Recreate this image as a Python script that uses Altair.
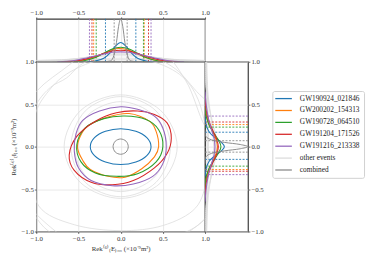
import altair as alt
import pandas as pd

# ---------------- data ----------------
EVENTS = ["GW190924_021846", "GW200202_154313", "GW190728_064510",
          "GW191204_171526", "GW191216_213338"]
OTHER = "other events"
COMBINED = "combined"
LEGEND_ORDER = EVENTS + [OTHER, COMBINED]
COLORS = ["#1f77b4", "#ff7f0e", "#2ca02c", "#d62728", "#9467bd", "#dcdcdc", "#8a8a8a"]

# main-panel 90% contours (points along each closed curve)
contour_x = {
    "GW190924_021846": [0.36, 0.31, 0.18, 0.0, -0.18, -0.31, -0.36, -0.31, -0.18, 0.0, 0.18, 0.31],
    "GW200202_154313": [0.45, 0.42, 0.34, 0.10, -0.15, -0.38, -0.48, -0.51, -0.45, -0.36, -0.15, 0.05, 0.25, 0.40],
    "GW190728_064510": [0.50, 0.45, 0.30, 0.05, -0.20, -0.42, -0.52, -0.47, -0.30, -0.05, 0.20, 0.42],
    "GW191204_171526": [0.60, 0.55, 0.40, 0.20, -0.05, -0.30, -0.52, -0.61, -0.55, -0.35, -0.10, 0.15, 0.40, 0.55],
    "GW191216_213338": [0.54, 0.50, 0.40, 0.20, 0.0, -0.25, -0.45, -0.53, -0.55, -0.50, -0.35, -0.10, 0.15, 0.38, 0.50],
}
contour_y = {
    "GW190924_021846": [0.0, 0.105, 0.18, 0.21, 0.18, 0.105, 0.0, -0.105, -0.18, -0.21, -0.18, -0.105],
    "GW200202_154313": [0.0, 0.18, 0.30, 0.39, 0.35, 0.25, 0.12, -0.02, -0.16, -0.27, -0.35, -0.36, -0.26, -0.12],
    "GW190728_064510": [0.0, 0.20, 0.32, 0.36, 0.33, 0.22, 0.02, -0.18, -0.31, -0.35, -0.32, -0.18],
    "GW191204_171526": [0.10, 0.28, 0.38, 0.42, 0.40, 0.30, 0.12, -0.10, -0.28, -0.42, -0.45, -0.40, -0.25, -0.08],
    "GW191216_213338": [0.0, 0.22, 0.36, 0.44, 0.47, 0.42, 0.31, 0.15, -0.05, -0.25, -0.40, -0.46, -0.44, -0.35, -0.20],
}
combined_cx = [0.09, 0.064, 0.0, -0.064, -0.09, -0.064, 0.0, 0.064]
combined_cy = [0.0, 0.064, 0.09, 0.064, 0.0, -0.064, -0.09, -0.064]

other_cx = [
    [0.59, 0.42, 0.0, -0.42, -0.59, -0.42, 0.0, 0.42],
    [0.55, 0.39, 0.0, -0.39, -0.55, -0.39, 0.0, 0.39],
    [0.67, 0.47, 0.0, -0.47, -0.67, -0.47, 0.0, 0.47],
    [1.02, 0.92, 0.70, 0.30, -0.20, -0.60, -0.85, -1.02, -1.05, -0.97, -0.55, 0.0, 0.50, 0.89, 1.02],
    [1.20, 0.90, 0.60, 0.10, -0.41, -0.64, -0.83, -1.00, -1.20, -1.15, -0.85, -0.20, 0.50, 1.00, 1.20],
    [1.25, 1.00, 0.77, 0.40, -0.20, -0.60, -1.00, -1.30, -1.20, -0.83, -0.30, 0.40, 0.98, 1.20],
]
other_cy = [
    [0.0, 0.42, 0.59, 0.42, 0.0, -0.42, -0.59, -0.42],
    [0.0, 0.37, 0.53, 0.37, 0.0, -0.37, -0.53, -0.37],
    [0.0, 0.43, 0.61, 0.43, 0.0, -0.43, -0.61, -0.43],
    [0.10, 0.55, 0.85, 1.02, 1.03, 0.88, 0.66, 0.35, -0.20, -0.70, -0.92, -0.99, -0.93, -0.72, -0.35],
    [0.30, 0.65, 0.95, 1.15, 1.00, 0.81, 0.70, 0.50, 0.10, -0.50, -1.00, -1.20, -1.10, -0.85, -0.30],
    [0.0, 0.24, 0.78, 1.20, 1.30, 0.97, 0.65, 0.20, -0.50, -0.95, -1.25, -1.20, -0.87, -0.45],
]

# top marginal: 1-D densities along x (fraction of panel height)
top_x = {
    "GW190924_021846": [-0.4, -0.3, -0.2, -0.12, -0.06, 0.0, 0.06, 0.12, 0.2, 0.3, 0.4],
    "GW200202_154313": [-0.65, -0.5, -0.35, -0.2, -0.1, -0.02, 0.08, 0.2, 0.3, 0.45, 0.6],
    "GW190728_064510": [-0.6, -0.45, -0.3, -0.2, -0.1, 0.0, 0.1, 0.2, 0.3, 0.45, 0.6],
    "GW191204_171526": [-0.7, -0.5, -0.35, -0.2, -0.1, 0.0, 0.1, 0.2, 0.35, 0.5, 0.7],
    "GW191216_213338": [-0.75, -0.55, -0.4, -0.2, -0.1, 0.0, 0.1, 0.2, 0.4, 0.55, 0.75],
}
top_d = {
    "GW190924_021846": [0.0, 0.02, 0.08, 0.22, 0.37, 0.45, 0.37, 0.22, 0.08, 0.02, 0.0],
    "GW200202_154313": [0.0, 0.02, 0.08, 0.20, 0.28, 0.31, 0.28, 0.18, 0.10, 0.02, 0.0],
    "GW190728_064510": [0.0, 0.02, 0.10, 0.20, 0.30, 0.34, 0.30, 0.20, 0.10, 0.02, 0.0],
    "GW191204_171526": [0.0, 0.03, 0.10, 0.19, 0.25, 0.27, 0.25, 0.19, 0.10, 0.03, 0.0],
    "GW191216_213338": [0.0, 0.03, 0.09, 0.18, 0.22, 0.23, 0.22, 0.18, 0.09, 0.03, 0.0],
}
combined_top_x = [-0.2, -0.12, -0.08, -0.05, -0.025, 0.0, 0.025, 0.05, 0.08, 0.12, 0.2]
combined_top_d = [0.0, 0.02, 0.15, 0.45, 0.82, 1.0, 0.82, 0.45, 0.15, 0.02, 0.0]
other_top_x = [-1.0, -0.7, -0.45, -0.2, 0.0, 0.2, 0.45, 0.7, 1.0]
other_top_d = [
    [0.0, 0.03, 0.09, 0.15, 0.17, 0.15, 0.09, 0.03, 0.0],
    [0.0, 0.02, 0.09, 0.17, 0.19, 0.17, 0.09, 0.02, 0.0],
    [0.01, 0.04, 0.09, 0.13, 0.14, 0.13, 0.09, 0.04, 0.01],
    [0.03, 0.05, 0.07, 0.08, 0.085, 0.08, 0.07, 0.05, 0.03],
    [0.03, 0.04, 0.05, 0.055, 0.06, 0.055, 0.05, 0.04, 0.03],
    [0.02, 0.03, 0.035, 0.04, 0.04, 0.04, 0.035, 0.03, 0.02],
]

# right marginal: 1-D densities along y (fraction of panel width)
right_y = {
    "GW190924_021846": [-0.35, -0.25, -0.17, -0.1, -0.05, 0.0, 0.05, 0.1, 0.17, 0.25, 0.35],
    "GW200202_154313": [-0.55, -0.4, -0.28, -0.18, -0.09, 0.0, 0.09, 0.18, 0.28, 0.4, 0.55],
    "GW190728_064510": [-0.5, -0.35, -0.25, -0.15, -0.07, 0.0, 0.07, 0.15, 0.25, 0.35, 0.5],
    "GW191204_171526": [-0.6, -0.42, -0.3, -0.18, -0.09, 0.0, 0.09, 0.18, 0.3, 0.42, 0.6],
    "GW191216_213338": [-0.65, -0.48, -0.33, -0.2, -0.1, 0.0, 0.1, 0.2, 0.33, 0.48, 0.65],
}
right_d = {
    "GW190924_021846": [0.0, 0.03, 0.10, 0.25, 0.38, 0.45, 0.38, 0.25, 0.10, 0.03, 0.0],
    "GW200202_154313": [0.0, 0.02, 0.08, 0.17, 0.25, 0.29, 0.25, 0.17, 0.08, 0.02, 0.0],
    "GW190728_064510": [0.0, 0.03, 0.10, 0.22, 0.32, 0.37, 0.32, 0.22, 0.10, 0.03, 0.0],
    "GW191204_171526": [0.0, 0.03, 0.09, 0.19, 0.27, 0.31, 0.27, 0.19, 0.09, 0.03, 0.0],
    "GW191216_213338": [0.0, 0.03, 0.08, 0.15, 0.21, 0.23, 0.21, 0.15, 0.08, 0.03, 0.0],
}
combined_right_y = [-0.2, -0.12, -0.08, -0.05, -0.025, 0.0, 0.025, 0.05, 0.08, 0.12, 0.2]
combined_right_d = [0.0, 0.02, 0.15, 0.45, 0.82, 1.0, 0.82, 0.45, 0.15, 0.02, 0.0]
other_right_y = [-1.0, -0.7, -0.45, -0.2, 0.0, 0.2, 0.45, 0.7, 1.0]
other_right_d = [
    [0.0, 0.03, 0.10, 0.20, 0.24, 0.20, 0.10, 0.03, 0.0],
    [0.0, 0.02, 0.10, 0.22, 0.27, 0.22, 0.10, 0.02, 0.0],
    [0.01, 0.05, 0.11, 0.17, 0.20, 0.17, 0.11, 0.05, 0.01],
    [0.04, 0.06, 0.07, 0.08, 0.08, 0.08, 0.07, 0.06, 0.04],
    [0.03, 0.04, 0.05, 0.06, 0.06, 0.06, 0.05, 0.04, 0.03],
    [0.02, 0.03, 0.04, 0.04, 0.045, 0.04, 0.04, 0.03, 0.02],
]

# 90% credible bounds (dashed lines)
x_lo = [-0.18, -0.32, -0.29, -0.34, -0.37, -0.077]
x_hi = [0.18, 0.28, 0.27, 0.33, 0.36, 0.077]
y_lo = [-0.15, -0.27, -0.23, -0.29, -0.33, -0.065]
y_hi = [0.17, 0.26, 0.23, 0.29, 0.36, 0.07]
BOUND_EVENTS = EVENTS + [COMBINED]

TICKS = [-1.0, -0.5, 0.0, 0.5, 1.0]
X_TITLE = "Rek⁽⁶⁾₍E₎₀₀  (×10⁻⁹m²)"
Y_TITLE = "Rek⁽⁶⁾₍I₎₀₀  (×10⁻⁹m²)"

# ---------------- build tables ----------------
def curve_rows(event, group, a, b):
    return [{"event": event, "group": group, "order": i, "a": p, "b": q}
            for i, (p, q) in enumerate(zip(a, b))]

main_ev, main_ot = [], []
for e in EVENTS:
    main_ev += curve_rows(e, e, contour_x[e], contour_y[e])
for k, (cx, cy) in enumerate(zip(other_cx, other_cy)):
    main_ot += curve_rows(OTHER, f"o{k}", cx, cy)
main_cb = curve_rows(COMBINED, COMBINED, combined_cx, combined_cy)

top_ev, top_ot = [], []
for e in EVENTS:
    top_ev += curve_rows(e, e, top_x[e], top_d[e])
for k, d in enumerate(other_top_d):
    top_ot += curve_rows(OTHER, f"o{k}", other_top_x, d)
top_cb = curve_rows(COMBINED, COMBINED, combined_top_x, combined_top_d)

right_ev, right_ot = [], []
for e in EVENTS:
    right_ev += curve_rows(e, e, right_y[e], right_d[e])
for k, d in enumerate(other_right_d):
    right_ot += curve_rows(OTHER, f"o{k}", other_right_y, d)
right_cb = curve_rows(COMBINED, COMBINED, combined_right_y, combined_right_d)

xb = pd.DataFrame({"event": BOUND_EVENTS * 2, "v": x_lo + x_hi})
yb = pd.DataFrame({"event": BOUND_EVENTS * 2, "v": y_lo + y_hi})

# ---------------- styling ----------------
FONT = "Liberation Serif"
cscale = alt.Scale(domain=LEGEND_ORDER, range=COLORS)
leg = alt.Legend(title=None, orient="none", legendX=242, legendY=30,
                 symbolType="M-1.9,0H4.9", symbolSize=25, symbolStrokeWidth=1.3,
                 labelFont=FONT, labelFontSize=7.5, labelColor="#222",
                 padding=4, rowPadding=3.2, labelOffset=16.7,
                 strokeColor="#d0d0d0", fillColor="white", cornerRadius=2)

pos_scale = alt.Scale(domain=[-1, 1], nice=False, zero=False)
dens_scale = alt.Scale(domain=[0, 1], nice=False, zero=False)

common_axis = dict(values=TICKS, format=".1f", grid=True, gridColor="#e2e2e2",
                   gridWidth=0.8, domain=False, tickSize=2, tickColor="#444",
                   tickWidth=0.8, labelFont=FONT, labelFontSize=7,
                   labelColor="#333", labelOverlap=False, labelFlush=False,
                   labelPadding=1)

main_xaxis = alt.Axis(title=X_TITLE, titleFont=FONT, titleFontSize=7,
                      titleFontWeight="normal", titleColor="#333",
                      titlePadding=4, **common_axis)
main_yaxis = alt.Axis(title=Y_TITLE, titleFont=FONT, titleFontSize=7,
                      titleFontWeight="normal", titleColor="#333",
                      titlePadding=5, **common_axis)
top_xaxis = alt.Axis(title=None, orient="top", **common_axis)
right_yaxis = alt.Axis(title=None, orient="right", **common_axis)

legend_color = alt.Color("event:N", scale=cscale, legend=leg)
plain_stroke = alt.Stroke("event:N", scale=cscale, legend=None)

# ---------------- main panel ----------------
def main_layer(rows, width):
    return alt.Chart(pd.DataFrame(rows)).mark_line(
        interpolate="cardinal-closed", clip=True, strokeWidth=width
    ).encode(
        x=alt.X("a:Q", scale=pos_scale, axis=main_xaxis),
        y=alt.Y("b:Q", scale=pos_scale, axis=main_yaxis),
        color=legend_color,
        detail="group:N",
        order="order:Q",
    )

main = alt.layer(
    main_layer(main_ot, 0.8),
    main_layer(main_ev, 1.1),
    main_layer(main_cb, 1.0),
).properties(width=173, height=174)

# ---------------- top marginal ----------------
def top_layer(rows, width):
    return alt.Chart(pd.DataFrame(rows)).mark_line(
        interpolate="monotone", clip=True, strokeWidth=width
    ).encode(
        x=alt.X("a:Q", scale=pos_scale, axis=top_xaxis),
        y=alt.Y("b:Q", scale=dens_scale, axis=None),
        stroke=plain_stroke,
        detail="group:N",
        order="a:Q",
    )

top_rules = alt.Chart(xb).mark_rule(strokeDash=[2, 1.5], strokeWidth=0.9).encode(
    x=alt.X("v:Q", scale=pos_scale, axis=top_xaxis),
    stroke=plain_stroke,
)

top = alt.layer(
    top_layer(top_ot, 0.8),
    top_rules,
    top_layer(top_ev, 1.1),
    top_layer(top_cb, 1.0),
).properties(width=173, height=44)

# ---------------- right marginal ----------------
def right_layer(rows, width):
    return alt.Chart(pd.DataFrame(rows)).mark_line(
        interpolate="catmull-rom", clip=True, strokeWidth=width
    ).encode(
        y=alt.Y("a:Q", scale=pos_scale, axis=right_yaxis),
        x=alt.X("b:Q", scale=dens_scale, axis=None),
        stroke=plain_stroke,
        detail="group:N",
        order="order:Q",
    )

right_rules = alt.Chart(yb).mark_rule(strokeDash=[2, 1.5], strokeWidth=0.9).encode(
    y=alt.Y("v:Q", scale=pos_scale, axis=right_yaxis),
    stroke=plain_stroke,
)

right = alt.layer(
    right_layer(right_ot, 0.8),
    right_rules,
    right_layer(right_ev, 1.1),
    right_layer(right_cb, 1.0),
).properties(width=44, height=174)

# ---------------- empty corner ----------------
spacer = alt.Chart(pd.DataFrame({"v": [0]})).mark_point(opacity=0).encode(
    x=alt.X("v:Q", axis=None), y=alt.Y("v:Q", axis=None)
).properties(width=44, height=44, view=alt.ViewBackground(stroke="transparent"))

chart = alt.concat(
    top, spacer, main, right, columns=2, spacing=0, bounds="flush"
).resolve_scale(color="independent", stroke="independent").properties(
    padding={"left": 0, "top": -3, "right": 0, "bottom": 0}
).configure_view(stroke="#3a3a3a", strokeWidth=1.2)

chart.save("out.html", embed_options={"renderer": "svg", "actions": False})
